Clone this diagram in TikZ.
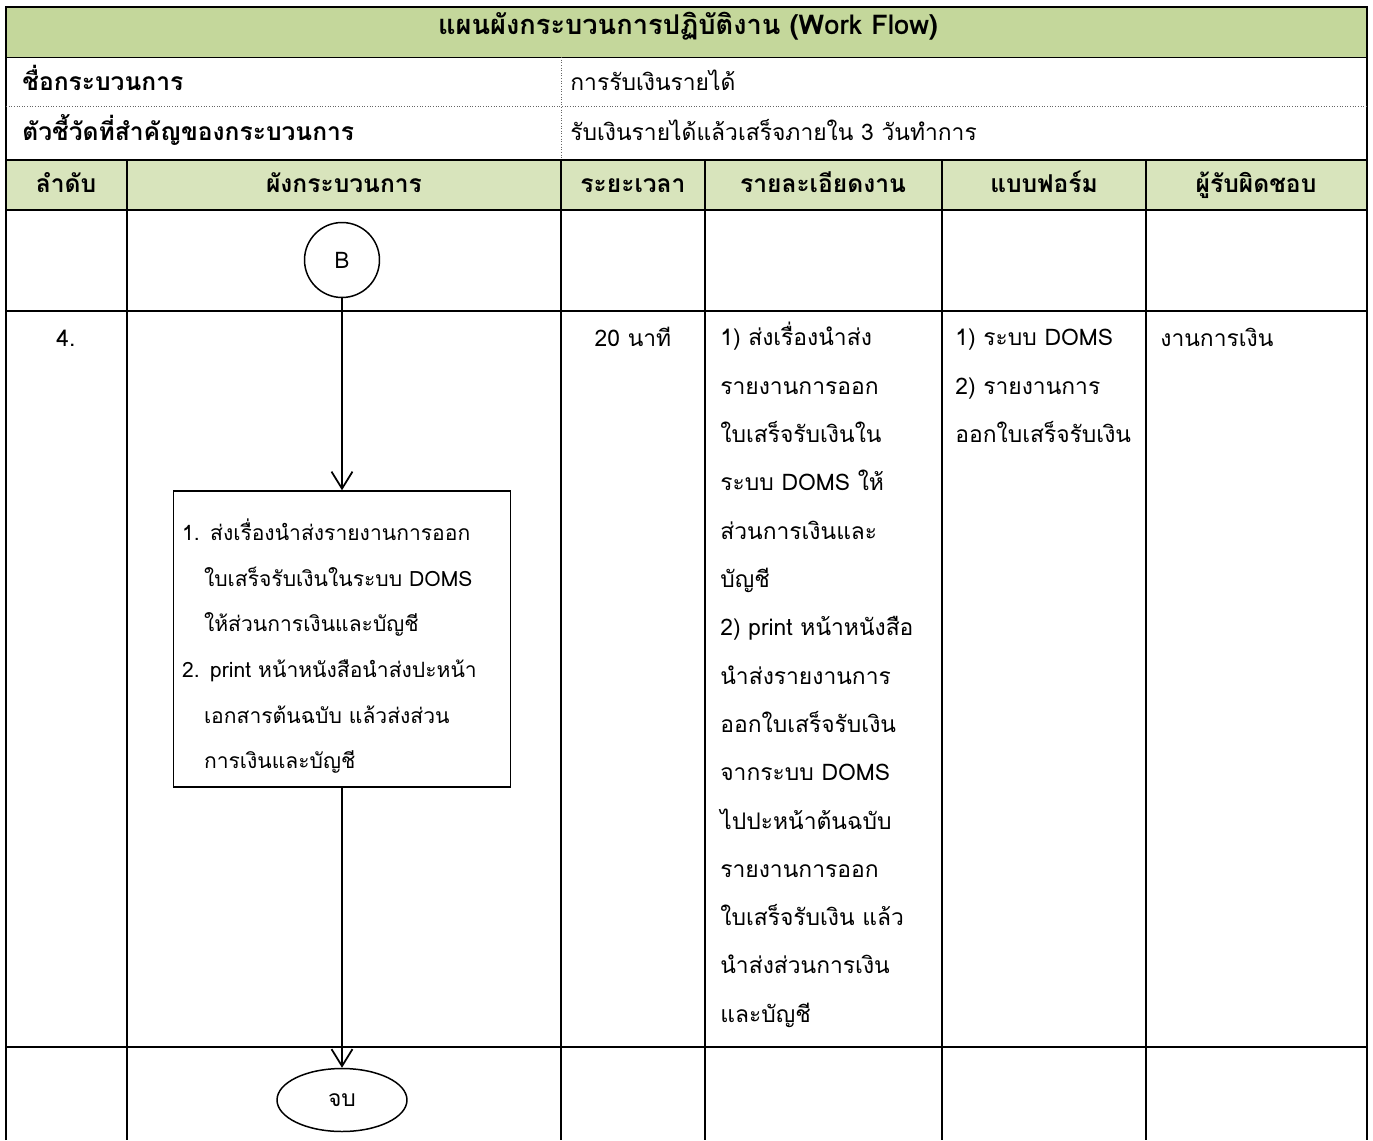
\documentclass[tikz,border=0pt]{standalone}
\usepackage{fontspec}
\newfontfamily\thaifont[Script=Thai]{Loma}
\usetikzlibrary{shapes.geometric,arrows.meta}

\definecolor{titlegreen}{RGB}{196,215,155}
\definecolor{headgreen}{RGB}{216,228,188}

\tikzset{
  gridline/.style={line width=1.1pt},
  thinline/.style={line width=0.5pt},
  dotline/.style={line width=0.5pt, black!60, densely dotted},
  txt/.style={font=\thaifont\fontsize{13}{27.5}\selectfont, inner sep=0pt},
  boldtxt/.style={font=\thaifont\bfseries\fontsize{14}{27.5}\selectfont, inner sep=0pt},
  flowbox/.style={draw, line width=0.85pt, minimum width=6.7cm, minimum height=5.92cm,
    text width=6.4cm, align=left, inner xsep=0.17cm,
    font=\thaifont\fontsize{12}{26}\selectfont},
  connector/.style={draw, circle, line width=0.85pt, minimum size=1.5cm, inner sep=0pt,
    font=\thaifont\fontsize{13}{15}\selectfont},
  terminal/.style={draw, ellipse, line width=0.85pt, minimum width=2.6cm, minimum height=1.26cm,
    inner sep=0pt, font=\thaifont\fontsize{13}{15}\selectfont},
  flowarrow/.style={line width=0.9pt, -{Straight Barb[length=0.34cm, width=0.42cm, line width=1pt]}}
}

\begin{document}
\begin{tikzpicture}[x=0.02cm, y=-0.02cm]

        \useasboundingbox (0,0) rectangle (1373,1140);

        % fondos verdes
        \fill[titlegreen] (6,7) rectangle (1367,57);
        \fill[headgreen] (6,160) rectangle (1367,210);

        % lineas de la tabla
        \draw[gridline] (6,1140) -- (6,7) -- (1367,7) -- (1367,1140);
        \draw[thinline] (6,57) -- (1367,57);
        \draw[dotline] (6,106) -- (1367,106);
        \draw[dotline] (561,57) -- (561,160);
        \foreach \y in {160,210,311,1047}
            \draw[gridline] (6,\y) -- (1367,\y);
        \foreach \x in {127,561,705,942,1146}
            \draw[gridline] (\x,160) -- (\x,1140);

        % titulo y datos del proceso
        \node[boldtxt, font=\thaifont\bfseries\fontsize{15.5}{20}\selectfont, anchor=base] (title) at (688,34) {แผนผังกระบวนการปฏิบัติงาน (Work Flow)};
        \node[boldtxt, anchor=base west] (namelbl) at (22,90) {ชื่อกระบวนการ};
        \node[txt, anchor=base west] (nameval) at (570,90) {การรับเงินรายได้};
        \node[boldtxt, anchor=base west] (kpilbl) at (22,140) {ตัวชี้วัดที่สำคัญของกระบวนการ};
        \node[txt, anchor=base west] (kpival) at (570,140) {รับเงินรายได้แล้วเสร็จภายใน 3 วันทำการ};

        % encabezado de columnas
        \node[boldtxt, anchor=base] (hstep) at (66,192) {ลำดับ};
        \node[boldtxt, anchor=base] (hflow) at (344,192) {ผังกระบวนการ};
        \node[boldtxt, anchor=base] (htime) at (633,192) {ระยะเวลา};
        \node[boldtxt, anchor=base] (hdetail) at (823,192) {รายละเอียดงาน};
        \node[boldtxt, anchor=base] (hform) at (1044,192) {แบบฟอร์ม};
        \node[boldtxt, anchor=base] (hresp) at (1256,192) {ผู้รับผิดชอบ};

        % fila 4
        \node[txt, anchor=base] (stepno) at (66,346) {4.};
        \node[txt, anchor=base] (time) at (633,346) {20 นาที};
        \node[txt, anchor=north west, align=left] (detail) at (720,322) {%
            1) ส่งเรื่องนำส่ง\\
            รายงานการออก\\
            ใบเสร็จรับเงินใน\\
            ระบบ DOMS ให้\\
            ส่วนการเงินและ\\
            บัญชี\\
            2) print หน้าหนังสือ\\
            นำส่งรายงานการ\\
            ออกใบเสร็จรับเงิน\\
            จากระบบ DOMS\\
            ไปปะหน้าต้นฉบับ\\
            รายงานการออก\\
            ใบเสร็จรับเงิน แล้ว\\
            นำส่งส่วนการเงิน\\
            และบัญชี};
        \node[txt, anchor=north west, align=left] (form) at (955,329) {%
            1) ระบบ DOMS\\
            2) รายงานการ\\
            ออกใบเสร็จรับเงิน};
        \node[txt, anchor=base west] (resp) at (1160,346) {งานการเงิน};

        % diagrama de flujo
        \node[connector] (startB) at (342,260) {B};
        \node[flowbox] (task) at (342,639) {%
            \rule{0pt}{0.72cm}1. ส่งเรื่องนำส่งรายงานการออก\\
            \hspace*{0.44cm}ใบเสร็จรับเงินในระบบ DOMS\\
            \hspace*{0.44cm}ให้ส่วนการเงินและบัญชี\\
            2. print หน้าหนังสือนำส่งปะหน้า\\
            \hspace*{0.44cm}เอกสารต้นฉบับ แล้วส่งส่วน\\
            \hspace*{0.44cm}การเงินและบัญชี};
        \node[terminal] (stop) at (342,1100) {จบ};

        \draw[flowarrow] (startB) -- (task);
        \draw[flowarrow] (task) -- (stop);

\end{tikzpicture}
\end{document}
